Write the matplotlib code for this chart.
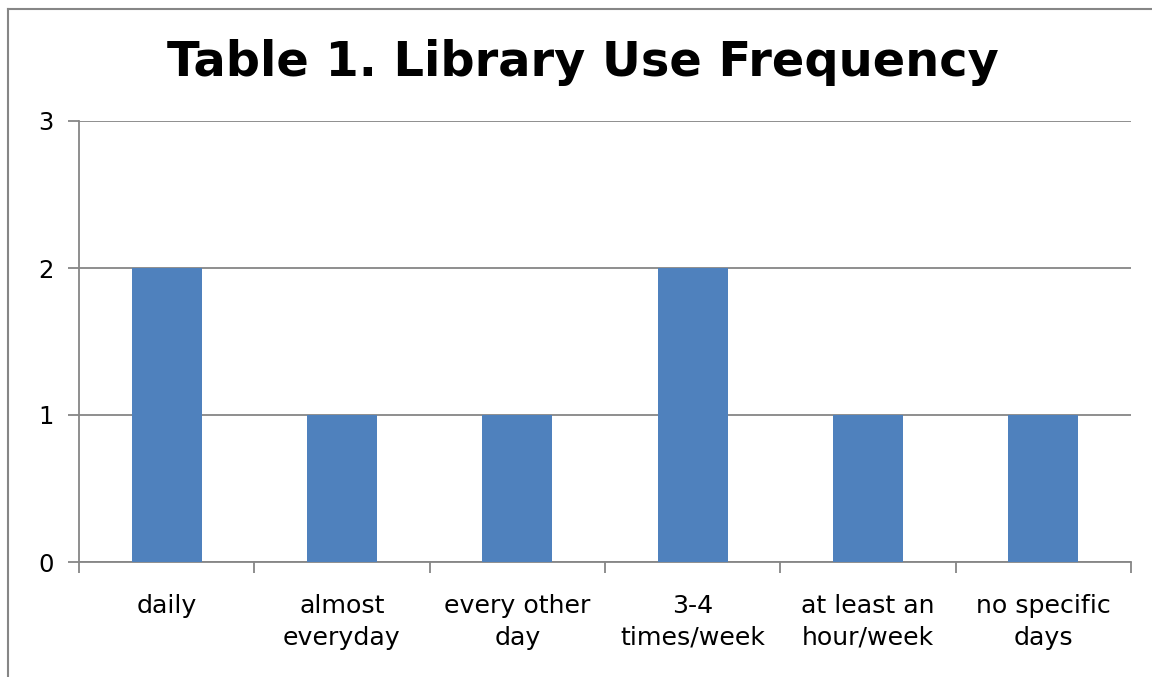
import matplotlib
matplotlib.use("Agg")
import matplotlib.pyplot as plt
from matplotlib.lines import Line2D

categories = ["daily", "almost\neveryday", "every other\nday", "3-4\ntimes/week",
              "at least an\nhour/week", "no specific\ndays"]
counts = [2, 1, 1, 2, 1, 1]
y_ticks = [0, 1, 2, 3]

W, H = 1152, 677
fig = plt.figure(figsize=(W / 100, H / 100), dpi=100)
fig.patch.set_facecolor("white")

# axes placed in pixel coordinates
left, right, top, bottom = 79, 1131, 121, 562
ax = fig.add_axes([left / W, 1 - bottom / H, (right - left) / W, (bottom - top) / H])

grid_c = "#868686"
x = list(range(len(categories)))
ax.bar(x, counts, width=0.4, color="#4F81BD", zorder=3)
ax.set_xlim(-0.5, len(categories) - 0.5)
ax.set_ylim(0, 3)
ax.set_yticks(y_ticks)
ax.set_yticklabels([str(v) for v in y_ticks], fontsize=17.5)
ax.yaxis.grid(True, color=grid_c, linewidth=1.3, zorder=0)
ax.set_axisbelow(True)

# category boundary ticks on x axis, labels centred beneath bars
ax.set_xticks([i - 0.5 for i in range(len(categories) + 1)])
ax.set_xticklabels([])
ax.set_xticks(x, minor=True)
ax.set_xticklabels(categories, minor=True, fontsize=18.2, linespacing=1.4)
ax.tick_params(axis="x", which="minor", length=0, pad=23)
ax.tick_params(axis="x", which="major", length=8, width=1.3, color=grid_c)
ax.tick_params(axis="y", length=8, width=1.3, color=grid_c, pad=10)

for s in ["top", "right"]:
    ax.spines[s].set_visible(False)
for s in ["left", "bottom"]:
    ax.spines[s].set_color(grid_c)
    ax.spines[s].set_linewidth(1.3)

fig.text(583 / W, 1 - 63 / H, "Table 1. Library Use Frequency", ha="center", va="center",
         fontsize=34.5, fontweight="bold")

# chart-area border
fig.add_artist(Line2D([8 / W, 8 / W], [0, 1 - 9 / H], color=grid_c, linewidth=1.5,
                      transform=fig.transFigure))
fig.add_artist(Line2D([8 / W, 1], [1 - 9 / H, 1 - 9 / H], color=grid_c, linewidth=1.5,
                      transform=fig.transFigure))

fig.savefig("out.png", dpi=100, facecolor="white")
